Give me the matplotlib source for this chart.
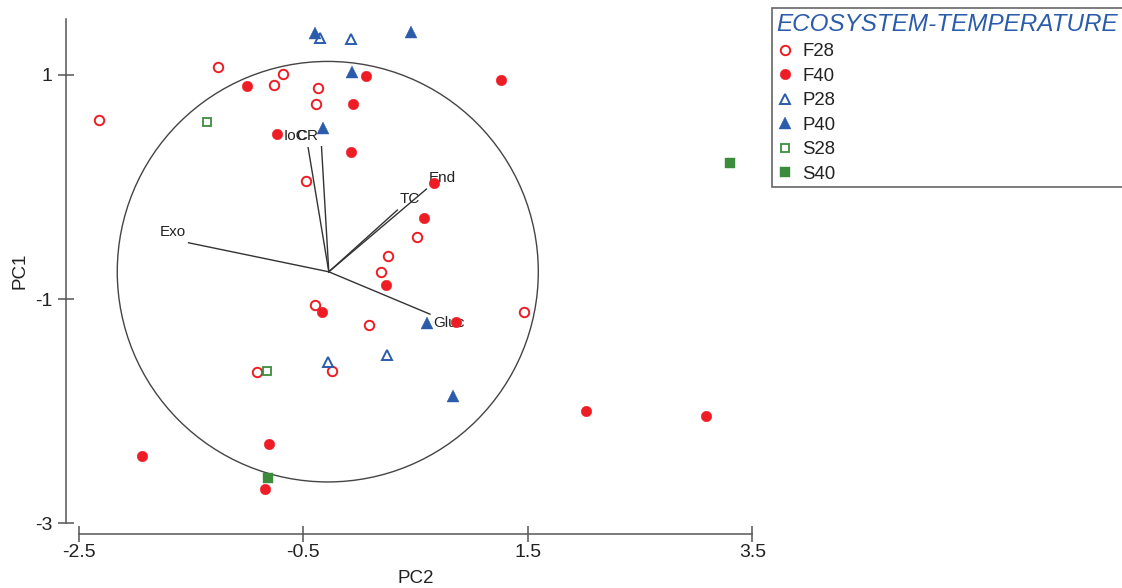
import matplotlib
matplotlib.use('Agg')
import matplotlib.pyplot as plt
from matplotlib.patches import Circle

plt.rcParams['font.family'] = ['Liberation Sans', 'DejaVu Sans']

# ---- data (PC2 = x, PC1 = y) ----
f28_x = [-1.262, -0.681, -0.759, -0.372, -0.390, -2.319, -0.479, 0.509, 0.253, 0.188, -0.393, 0.083, -0.244, -0.911, 1.467]
f28_y = [1.071, 1.006, 0.908, 0.884, 0.738, 0.598, 0.054, -0.446, -0.616, -0.762, -1.054, -1.232, -1.643, -1.649, -1.119]

f40_x = [-1.000, 0.056, -0.060, -0.732, -0.080, 1.265, 0.663, 0.574, 0.238, -0.333, 0.857, -0.806, -1.935, -0.842, 2.018, 3.083]
f40_y = [0.902, 0.991, 0.738, 0.473, 0.310, 0.955, 0.033, -0.277, -0.878, -1.113, -1.208, -2.292, -2.402, -2.690, -2.000, -2.042]

p28_x = [-0.348, -0.074, -0.279, 0.247]
p28_y = [1.333, 1.321, -1.560, -1.500]

p40_x = [-0.399, 0.455, -0.071, -0.324, 0.598, 0.833]
p40_y = [1.372, 1.381, 1.024, 0.524, -1.214, -1.860]

s28_x = [-1.363, -0.828]
s28_y = [0.583, -1.643]

s40_x = [3.297, -0.819]
s40_y = [0.214, -2.592]

# biplot vectors
origin = (-0.274, -0.756)
vec_names = ['Exo', 'Gluc', 'End', 'TC', 'IoC', 'CR']
vec_end_x = [-1.524, 0.628, 0.596, 0.337, -0.458, -0.339]
vec_end_y = [-0.497, -1.134, -0.018, -0.205, 0.351, 0.360]
lab_x = [-1.661, 0.661, 0.619, 0.360, -0.679, -0.562]
lab_y = [-0.402, -1.217, 0.078, -0.110, 0.455, 0.455]
lab_ha = ['center', 'left', 'left', 'left', 'left', 'left']

circle_center = (-0.283, -0.755)
circle_radius = 1.876

xticks = [-2.5, -0.5, 1.5, 3.5]
yticks = [1, -1, -3]

RED = '#EE1C25'
BLUE = '#2B5CAB'
GREEN = '#3B8C3D'

fig = plt.figure(figsize=(11.22, 5.88), dpi=100)
ax = fig.add_axes([0.07041, 0.11003, 0.60009, 0.85774])
ax.set_xlim(-2.5, 3.5)
ax.set_ylim(-3, 1.5)

# circle and vectors
ax.add_patch(Circle(circle_center, circle_radius, fill=False, ec='#444444', lw=1.0, zorder=1))
for ex, ey in zip(vec_end_x, vec_end_y):
    ax.plot([origin[0], ex], [origin[1], ey], color='#333333', lw=1.0, zorder=1)
for name, lx, ly, ha in zip(vec_names, lab_x, lab_y, lab_ha):
    ax.text(lx, ly, name, ha=ha, va='center', fontsize=11, color='#222222', zorder=2)

kw = dict(linestyle='none', clip_on=False, zorder=3)
ax.plot(f28_x, f28_y, marker='o', ms=6.8, mfc='white', mec=RED, mew=1.4, label='F28', **kw)
ax.plot(f40_x, f40_y, marker='o', ms=7.6, mfc=RED, mec=RED, mew=0.3, label='F40', **kw)
ax.plot(p28_x, p28_y, marker='^', ms=7.2, mfc='white', mec=BLUE, mew=1.4, label='P28', **kw)
ax.plot(p40_x, p40_y, marker='^', ms=8.0, mfc=BLUE, mec=BLUE, mew=0.3, label='P40', **kw)
ax.plot(s28_x, s28_y, marker='s', ms=6.0, mfc='white', mec=GREEN, mew=1.3, label='S28', **kw)
ax.plot(s40_x, s40_y, marker='s', ms=7.6, mfc=GREEN, mec=GREEN, mew=0.3, label='S40', **kw)

# axes styling
for s in ['top', 'right']:
    ax.spines[s].set_visible(False)
ax.spines['left'].set_position(('outward', 9.4))
ax.spines['bottom'].set_position(('outward', 7.9))
ax.spines['left'].set_bounds(-3, 1.5)
ax.spines['bottom'].set_bounds(-2.5, 3.5)
for s in ['left', 'bottom']:
    ax.spines[s].set_color('#555555')
    ax.spines[s].set_linewidth(1.1)
ax.set_xticks(xticks)
ax.set_xticklabels([str(v) for v in xticks])
ax.set_yticks(yticks)
ax.set_yticklabels([str(v) for v in yticks])
ax.tick_params(axis='both', direction='inout', length=12, width=1.1, color='#555555',
               labelsize=14, labelcolor='#222222')
ax.tick_params(axis='x', pad=1)
ax.tick_params(axis='y', pad=4)
ax.set_xlabel('PC2', fontsize=13.5, color='#222222')
ax.set_ylabel('PC1', fontsize=13.5, color='#222222')
ax.xaxis.set_label_coords(0.5, -0.093)
ax.yaxis.set_label_coords(-0.075, 0.5)

leg = ax.legend(loc='upper left', bbox_to_anchor=(771.7 / 1122, 1 - 8.3 / 588),
                bbox_transform=fig.transFigure, borderaxespad=0, frameon=True,
                fancybox=False, framealpha=1, edgecolor='#666666',
                title='ECOSYSTEM-TEMPERATURE', fontsize=13.4,
                title_fontproperties={'style': 'italic', 'size': 17.5},
                handlelength=0.9, handletextpad=0.5, labelspacing=0.40,
                borderpad=0.25, markerscale=1.0)
leg.get_title().set_color(BLUE)
leg._legend_box.align = 'left'
leg.get_frame().set_linewidth(1.2)
for t in leg.get_texts():
    t.set_color('#222222')

fig.savefig('out.png', dpi=100)
